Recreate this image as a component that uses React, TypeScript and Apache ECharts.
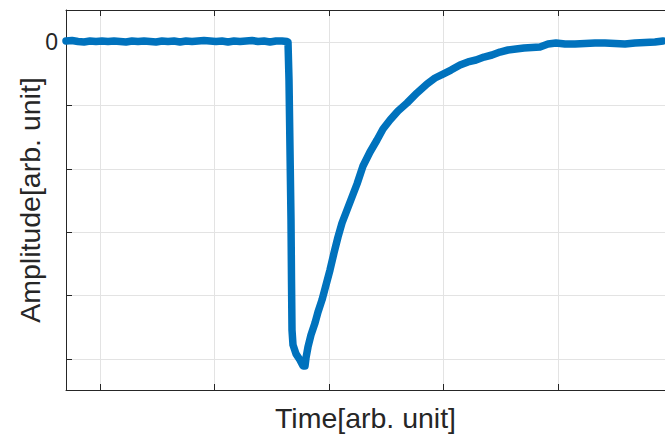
import React, { useEffect, useRef } from "react";
import * as echarts from "echarts";

// time (arb. unit) and amplitude (arb. unit)
const timeValues: number[] = [
  0, 6, 12, 18, 24, 30, 36, 42, 48, 54, 60, 66, 72, 78, 84, 90, 96, 102, 108, 114,
  120, 126, 132, 138, 144, 150, 156, 162, 168, 174, 180, 186, 192, 198, 204, 210, 216, 221,
  222, 223, 224, 225, 225.5, 226, 227, 230, 234, 237, 239,
  240, 242, 245, 249, 252, 256, 260, 264, 268, 272, 276, 281, 286, 291, 297, 304, 311, 317,
  324, 332, 341, 351, 361, 369, 377, 385, 394, 402, 410, 418, 426, 434, 442, 450, 458, 466,
  474, 482, 490, 499, 509, 519, 529, 539, 549, 559, 569, 579, 589, 597,
];
const amplitudeValues: number[] = [
  0.016, 0.024, 0.008, 0.0, 0.016, 0.008, 0.016, 0.008, 0.016, 0.008, 0.0, 0.016, 0.008, 0.016,
  0.008, 0.0, 0.016, 0.008, 0.016, 0.0, 0.016, 0.008, 0.016, 0.024, 0.016, 0.008, 0.016, 0.0,
  0.016, 0.008, 0.016, 0.024, 0.008, 0.016, 0.0, 0.016, 0.016, 0.008,
  0.0, -0.599, -1.703, -2.808, -3.754, -4.543, -4.779, -4.921, -5.016, -5.11, -5.11,
  -4.984, -4.811, -4.621, -4.432, -4.259, -4.069, -3.833, -3.596, -3.328, -3.076, -2.855,
  -2.65, -2.445, -2.24, -1.956, -1.735, -1.546, -1.372, -1.23, -1.088, -0.962, -0.804,
  -0.662, -0.568, -0.505, -0.442, -0.363, -0.315, -0.284, -0.237, -0.205, -0.158, -0.126,
  -0.11, -0.095, -0.087, -0.079, -0.032, -0.016, -0.032, -0.032, -0.024, -0.016, -0.016,
  -0.024, -0.032, -0.016, -0.008, 0.0, 0.016,
];
const xGridValues: number[] = [34, 148.5, 263, 377.5, 492];
const yGridValues: number[] = [-5, -4, -3, -2, -1, 0];
const yLabelValues: number[] = [0];
const xName = "Time[arb. unit]";
const yName = "Amplitude[arb. unit]";

const FONT = "'Liberation Sans', Arial, Helvetica, sans-serif";
const AXIS_COLOR = "#262626";
const GRID_COLOR = "#e3e3e3";

export default function App() {
  const ref = useRef<HTMLDivElement>(null);
  useEffect(() => {
    if (!ref.current) return;
    const chart = echarts.init(ref.current, undefined, { renderer: "svg" });
    const points = timeValues.map((t, i) => [t, amplitudeValues[i]]);
    const xMin = 0;
    const xMax = 599;
    const yMin = -5.49;
    const yMax = 0.505;
    chart.setOption({
      animation: false,
      backgroundColor: "#ffffff",
      grid: { left: 66, right: 0, top: 10, bottom: 46, containLabel: false, outerBoundsMode: "none" },
      xAxis: [
        {
          type: "value",
          position: "bottom",
          min: xMin,
          max: xMax,
          name: xName,
          nameLocation: "middle",
          nameGap: 13,
          nameMoveOverlap: false,
          nameTextStyle: { fontFamily: FONT, fontSize: 28.5, color: AXIS_COLOR },
          axisLine: { show: true, onZero: false, lineStyle: { color: AXIS_COLOR, width: 1 } },
          axisTick: { show: true, inside: true, length: 6, customValues: xGridValues, lineStyle: { color: AXIS_COLOR } },
          axisLabel: { show: false, customValues: xGridValues },
          splitLine: { show: true, lineStyle: { color: GRID_COLOR, width: 1 } },
        },
        {
          type: "value",
          position: "top",
          min: xMin,
          max: xMax,
          axisLine: { show: true, onZero: false, lineStyle: { color: AXIS_COLOR, width: 1 } },
          axisTick: { show: true, inside: true, length: 6, customValues: xGridValues, lineStyle: { color: AXIS_COLOR } },
          axisLabel: { show: false },
          splitLine: { show: false },
        },
      ],
      yAxis: {
        type: "value",
        min: yMin,
        max: yMax,
        name: yName,
        nameLocation: "middle",
        nameGap: 22,
        nameMoveOverlap: false,
        nameTextStyle: { fontFamily: FONT, fontSize: 28.5, color: AXIS_COLOR },
        axisLine: { show: true, onZero: false, lineStyle: { color: AXIS_COLOR, width: 1 } },
        axisTick: { show: true, inside: true, length: 6, customValues: yGridValues, lineStyle: { color: AXIS_COLOR } },
        axisLabel: {
          show: true,
          customValues: yLabelValues,
          fontFamily: FONT,
          fontSize: 23,
          color: AXIS_COLOR,
          margin: 8,
          formatter: (v: number) => String(v),
        },
        splitLine: { show: true, lineStyle: { color: GRID_COLOR, width: 1 } },
      },
      series: [
        {
          type: "line",
          xAxisIndex: 0,
          data: points,
          showSymbol: false,
          symbol: "none",
          lineStyle: { color: "#0072BD", width: 7.5, join: "round", cap: "round" },
          z: 3,
        },
      ],
    });
    return () => chart.dispose();
  }, []);
  return (
    <div
      ref={ref}
      style={{ position: "fixed", left: 0, top: 0, width: 665, height: 436, background: "#fff" }}
    />
  );
}
